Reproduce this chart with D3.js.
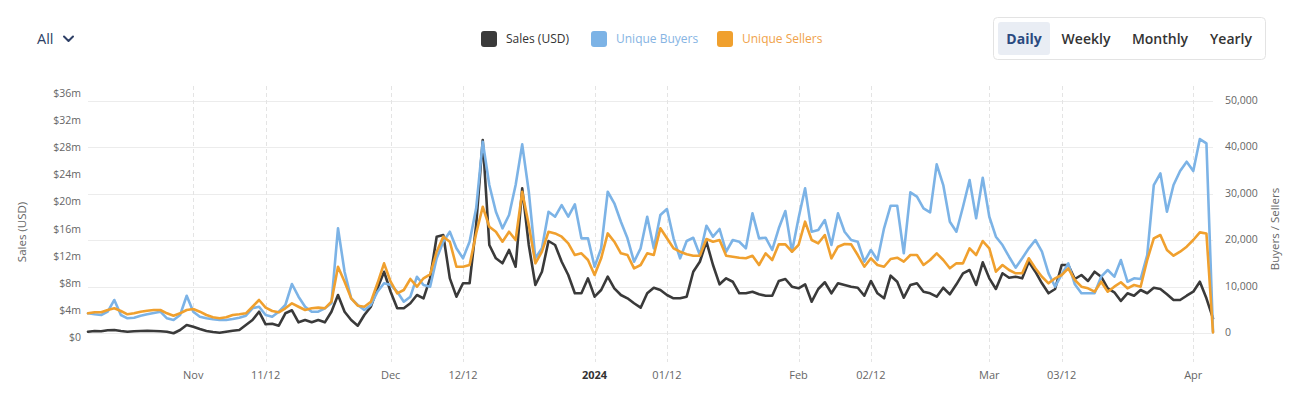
<!DOCTYPE html>
<html>
<head>
<meta charset="utf-8">
<script src="https://cdn.jsdelivr.net/npm/d3@7"></script>
<style>
  html, body { margin: 0; padding: 0; background: #fff; }
  svg { display: block; font-family: "Open Sans", "Noto Sans", sans-serif; }
</style>
</head>
<body>
<svg id="chart" width="1300" height="397"></svg>
<script>
// ---------------- DATA ----------------
const startDate = "2023-10-16";   // first daily point
const endDate   = "2024-04-04";   // last daily point

// Sales (USD, millions)
const salesUSDm = [
  0.97, 1.07, 1.03, 1.18, 1.22, 1.07, 0.97, 1.03, 1.07, 1.12,
  1.07, 1.03, 0.97, 0.74, 1.22, 1.96, 1.71, 1.37, 1.07, 0.93,
  0.82, 0.97, 1.12, 1.22, 1.96, 2.69, 3.91, 2.06, 2.15, 1.85,
  3.68, 4.12, 2.35, 2.69, 2.35, 2.69, 2.35, 3.91, 6.37, 3.91,
  2.69, 1.85, 3.43, 4.65, 7.35, 9.79, 6.85, 4.41, 4.41, 5.15,
  6.37, 5.88, 8.82, 14.94, 15.19, 8.82, 6.12, 8.09, 8.09, 16.66,
  29.16, 13.72, 11.76, 11.03, 12.99, 10.53, 22.06, 13.72, 7.84, 9.79,
  14.31, 13.72, 11.26, 9.31, 6.62, 6.62, 8.82, 6.12, 7.10, 9.06,
  7.35, 6.37, 5.88, 5.15, 4.50, 6.62, 7.44, 7.10, 6.37, 5.88,
  5.88, 6.12, 9.79, 11.26, 14.21, 10.78, 7.94, 8.82, 8.32, 6.62,
  6.62, 6.85, 6.47, 6.26, 6.26, 8.43, 8.72, 7.59, 7.35, 7.94,
  5.38, 7.25, 8.24, 6.62, 8.09, 7.84, 7.59, 7.44, 6.26, 8.43,
  6.62, 5.88, 9.21, 8.32, 5.97, 7.84, 8.09, 6.85, 6.62, 6.12,
  7.44, 6.47, 7.94, 9.56, 10.04, 7.84, 11.18, 8.82, 7.25, 9.56,
  8.91, 9.06, 8.82, 11.26, 9.79, 8.09, 6.62, 7.25, 10.78, 10.78,
  8.72, 9.31, 8.43, 9.79, 9.06, 7.35, 6.76, 5.49, 6.62, 6.26,
  7.10, 6.62, 7.44, 7.25, 6.47, 5.63, 5.63, 6.26, 6.85, 8.32,
  5.88, 2.94
];

const uniqueBuyers = [
  4300, 4090, 3940, 4650, 7170, 3940, 3230, 3360, 3790, 4090,
  4370, 4650, 3230, 2860, 3940, 8090, 4650, 3570, 3230, 3010,
  2860, 2860, 3080, 3360, 3790, 5380, 5720, 3940, 3570, 4650,
  6090, 10610, 7880, 5720, 4650, 4650, 5380, 6460, 22600, 13260,
  7530, 6090, 5010, 6090, 8950, 10760, 10390, 8950, 6800, 7880,
  12180, 10390, 10030, 16140, 19710, 21860, 18290, 16140, 19710, 26900,
  41230, 31910, 26170, 22600, 25460, 31910, 40670, 30470, 16140, 18290,
  26170, 25090, 27610, 25090, 27760, 20440, 20440, 14330, 18290, 30470,
  27980, 24020, 20440, 15410, 18290, 25090, 18290, 25460, 26750, 20440,
  16140, 19860, 20570, 16850, 23160, 20790, 22450, 17560, 20080, 19710,
  18290, 25820, 20440, 20570, 17930, 22600, 26320, 17560, 24750, 31200,
  21860, 22230, 24380, 19000, 25820, 21860, 20080, 19710, 15410, 17930,
  15770, 22600, 27460, 27460, 17220, 30340, 29400, 26900, 26040, 36370,
  31910, 24020, 21860, 27240, 32990, 24750, 33490, 25090, 20790, 19000,
  16480, 14120, 16140, 18290, 20080, 17560, 12910, 10030, 12700, 15060,
  10550, 8610, 8610, 8610, 12180, 13620, 12180, 15770, 11100, 11840,
  11690, 16850, 31910, 34430, 26170, 31910, 34930, 36930, 34930, 41810,
  40890, 300
];

const uniqueSellers = [
  4300, 4520, 4520, 5010, 5380, 4800, 4090, 4300, 4650, 4860,
  5010, 5010, 4300, 3790, 4300, 5010, 5230, 4650, 3940, 3440,
  3230, 3440, 3940, 4090, 4300, 5720, 7170, 5530, 4800, 4520,
  5380, 6460, 5720, 5010, 5380, 5530, 5380, 6800, 14330, 11100,
  7530, 5940, 5720, 6800, 10760, 15060, 11100, 8610, 9320, 11690,
  10030, 11840, 12700, 17560, 20790, 19710, 14330, 14330, 14700, 21500,
  27240, 22940, 21860, 19710, 21860, 20080, 30470, 23310, 15060, 17560,
  21860, 21500, 20790, 19370, 16850, 17220, 15770, 12550, 16140, 21500,
  19710, 17220, 16850, 13990, 14700, 17220, 16850, 22600, 20440, 18290,
  17560, 17000, 16700, 16700, 20290, 19710, 20080, 16700, 16480, 16270,
  16140, 16700, 14700, 17220, 15770, 19150, 19150, 17560, 19000, 24020,
  20080, 19370, 21150, 16140, 18640, 19220, 19150, 16850, 14330, 16140,
  14700, 14330, 15990, 16270, 15410, 16850, 16850, 14700, 15770, 17220,
  15770, 13990, 15060, 15060, 18290, 16850, 19860, 18290, 13260, 14700,
  13620, 12910, 12910, 16140, 13990, 12180, 10760, 11840, 12550, 13990,
  11470, 10030, 9680, 8950, 11100, 8950, 10030, 10980, 9680, 10390,
  10030, 15770, 20440, 21150, 17930, 16700, 17560, 18640, 20080, 21720,
  21500, 200
];

const xTickDates  = ["2023-11-01","2023-11-12","2023-12-01","2023-12-12","2024-01-01","2024-01-12","2024-02-01","2024-02-12","2024-03-01","2024-03-12","2024-04-01"];
const xTickLabels = ["Nov","11/12","Dec","12/12","2024","01/12","Feb","02/12","Mar","03/12","Apr"];
const salesTicks  = [0, 4, 8, 12, 16, 20, 24, 28, 32, 36];
const countTicks  = [0, 10000, 20000, 30000, 40000, 50000];

const seriesNames  = ["Sales (USD)", "Unique Buyers", "Unique Sellers"];
const seriesColors = ["#3a3a3a", "#7cb3e6", "#f0a02e"];
const legendTextColors = ["#333333", "#86b4e3", "#f0a24a"];
const rangeButtons = ["Daily", "Weekly", "Monthly", "Yearly"];

// ---------------- CHART ----------------
const svg = d3.select("#chart");
const parse = d3.utcParse("%Y-%m-%d");
const dates = d3.utcDay.range(parse(startDate), d3.utcDay.offset(parse(endDate), 1));

const plot = { left: 88, right: 1213, top: 86, bottom: 333.3 };

const x = d3.scaleUtc().domain([parse(startDate), parse(endDate)]).range([plot.left, plot.right]);
const ySales = d3.scaleLinear().domain([0, 36]).range([338.3, 93.5]);
const yCount = d3.scaleLinear().domain([0, 50000]).range([333.3, 101]);

// horizontal grid (right axis)
svg.append("g")
  .selectAll("line").data(countTicks).join("line")
  .attr("x1", plot.left).attr("x2", plot.right)
  .attr("y1", d => Math.round(yCount(d)) + 0.5).attr("y2", d => Math.round(yCount(d)) + 0.5)
  .attr("stroke", "#ececec").attr("stroke-width", 1);

// vertical grid (x ticks)
const xt = xTickDates.map(parse);
svg.append("g")
  .selectAll("line").data(xt).join("line")
  .attr("x1", d => Math.round(x(d)) + 0.5).attr("x2", d => Math.round(x(d)) + 0.5)
  .attr("y1", plot.top).attr("y2", 362)
  .attr("stroke", "#e4e4e4").attr("stroke-width", 1).attr("stroke-dasharray", "4,3");

// x labels
svg.append("g")
  .selectAll("text").data(xt).join("text")
  .attr("x", d => x(d)).attr("y", 379)
  .attr("text-anchor", "middle")
  .attr("font-size", 11)
  .attr("font-weight", (d, i) => xTickLabels[i] === "2024" ? 700 : 400)
  .attr("fill", (d, i) => xTickLabels[i] === "2024" ? "#333" : "#666")
  .text((d, i) => xTickLabels[i]);

// left axis labels
svg.append("g")
  .selectAll("text").data(salesTicks).join("text")
  .attr("x", 81).attr("y", d => ySales(d) - 0.5)
  .attr("dy", "0.35em")
  .attr("text-anchor", "end")
  .attr("font-size", 10.5).attr("fill", "#666")
  .text(d => d === 0 ? "$0" : "$" + d + "m");

// right axis labels
svg.append("g")
  .selectAll("text").data(countTicks).join("text")
  .attr("x", 1225).attr("y", d => yCount(d) - 1)
  .attr("dy", "0.35em")
  .attr("text-anchor", "start")
  .attr("font-size", 10.5).attr("fill", "#666")
  .text(d => d3.format(",")(d));

// axis titles
svg.append("text")
  .attr("transform", "translate(26,232) rotate(-90)")
  .attr("text-anchor", "middle")
  .attr("font-size", 11.5).attr("fill", "#666")
  .text("Sales (USD)");
svg.append("text")
  .attr("transform", "translate(1279,229) rotate(-90)")
  .attr("text-anchor", "middle")
  .attr("font-size", 11.5).attr("fill", "#666")
  .text("Buyers / Sellers");

// lines
const lineSales = d3.line().x((d, i) => x(dates[i])).y(d => ySales(d));
const lineCount = d3.line().x((d, i) => x(dates[i])).y(d => yCount(d));

const lines = svg.append("g").attr("fill", "none").attr("stroke-width", 2.6)
  .attr("stroke-linejoin", "round").attr("stroke-linecap", "round");
lines.append("path").attr("d", lineSales(salesUSDm)).attr("stroke", seriesColors[0]);
lines.append("path").attr("d", lineCount(uniqueBuyers)).attr("stroke", seriesColors[1]);
lines.append("path").attr("d", lineCount(uniqueSellers)).attr("stroke", seriesColors[2]);

// legend
const legendX = [481, 591, 717];
const lg = svg.append("g").selectAll("g").data(seriesNames).join("g")
  .attr("transform", (d, i) => `translate(${legendX[i]},31)`);
lg.append("rect").attr("width", 16).attr("height", 16).attr("rx", 3)
  .attr("fill", (d, i) => seriesColors[i]);
lg.append("text").attr("x", 25).attr("y", 8).attr("dy", "0.35em")
  .attr("font-size", 12).attr("fill", (d, i) => legendTextColors[i])
  .text(d => d);

// "All" dropdown
svg.append("text").attr("x", 37).attr("y", 39).attr("dy", "0.35em")
  .attr("font-size", 14.5).attr("fill", "#2e3f66").text("All");
svg.append("path").attr("d", "M64,36.5 L68.5,41 L73,36.5")
  .attr("fill", "none").attr("stroke", "#2e3f66").attr("stroke-width", 2)
  .attr("stroke-linecap", "round").attr("stroke-linejoin", "round");

// range buttons
svg.append("rect").attr("x", 993.5).attr("y", 17.5).attr("width", 272).attr("height", 42).attr("rx", 4)
  .attr("fill", "#fff").attr("stroke", "#e3e3e3");
svg.append("rect").attr("x", 998).attr("y", 22).attr("width", 52).attr("height", 33).attr("rx", 3)
  .attr("fill", "#e9edf4");
const btnX = [1024, 1086, 1160, 1231];
svg.append("g").selectAll("text").data(rangeButtons).join("text")
  .attr("x", (d, i) => btnX[i]).attr("y", 39).attr("dy", "0.35em")
  .attr("text-anchor", "middle")
  .attr("font-size", 14).attr("font-weight", (d, i) => i === 0 ? 700 : 600)
  .attr("fill", (d, i) => i === 0 ? "#2b4a80" : "#333")
  .text(d => d);
</script>
</body>
</html>
